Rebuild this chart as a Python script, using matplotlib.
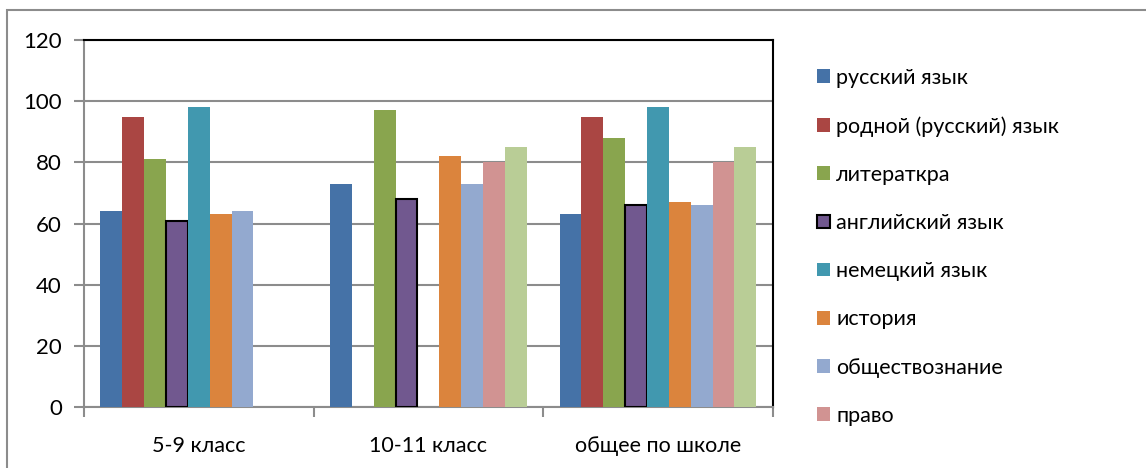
import matplotlib.pyplot as plt
import matplotlib.patches as mpatches
import numpy as np

plt.rcParams['font.family'] = ['Lato', 'DejaVu Sans']

categories = ['5-9 класс', '10-11 класс', 'общее по школе']
subjects = ['русский язык', 'родной (русский) язык', 'литераткра', 'английский язык',
            'немецкий язык', 'история', 'обществознание', 'право', '_nolegend_']
# nan = no bar for that class
values = [
    [64, 73, 63],
    [95, np.nan, 95],
    [81, 97, 88],
    [61, 68, 66],
    [98, np.nan, 98],
    [63, 82, 67],
    [64, 73, 66],
    [np.nan, 80, 80],
    [np.nan, 85, 85],
]
colors = ['#4572A7', '#AA4643', '#89A54E', '#71588F', '#4198AF',
          '#DB843D', '#93A9CF', '#D19392', '#B9CD96']

W, H = 1146, 468
fig = plt.figure(figsize=(W / 100, H / 100), dpi=100)

# outer chart frame (cut off on right and bottom)
fig.patches.append(mpatches.Rectangle((7 / W, -0.1), 1.2, 1 - 10 / H + 0.1,
                                      transform=fig.transFigure, fill=False,
                                      edgecolor='#8c8c8c', linewidth=1.5))

ax = fig.add_axes([84 / W, 1 - 407.3 / H, (772.7 - 84) / W, (407.3 - 40) / H])

n = len(subjects)
bw = 1 / (n + 1.5)
x = np.arange(len(categories))
for i, (name, vals, c) in enumerate(zip(subjects, values, colors)):
    edge = 'black' if i == 3 else 'none'
    ax.bar(x + (i - (n - 1) / 2) * bw, vals, bw, color=c, label=name,
           edgecolor=edge, linewidth=1.5 if i == 3 else 0, zorder=3)

ax.set_xlim(-0.5, len(categories) - 0.5)
ax.set_ylim(0, 120)
ax.set_yticks(range(0, 121, 20))
ax.set_xticks(x)
ax.set_xticklabels(categories)
ax.set_xticks(np.arange(-0.5, len(categories), 1), minor=True)
ax.tick_params(axis='x', which='major', length=0, pad=21, labelsize=15.5)
ax.tick_params(axis='x', which='minor', length=7, width=1.5, color='#8c8c8c')
ax.tick_params(axis='y', length=7, width=1.5, color='#8c8c8c', pad=9, labelsize=16)
ax.grid(axis='y', color='#8c8c8c', linewidth=1.5, zorder=0)
ax.set_axisbelow(True)
for s in ['left', 'bottom']:
    ax.spines[s].set_color('#8c8c8c')
    ax.spines[s].set_linewidth(1.5)
for s in ['top', 'right']:
    ax.spines[s].set_color('black')
    ax.spines[s].set_linewidth(1.5)

leg = ax.legend(loc='upper left', bbox_to_anchor=(806 / W, 1 - 57 / H),
                bbox_transform=fig.transFigure, frameon=False, fontsize=15.5,
                handlelength=0.6, handleheight=0.6, handletextpad=0.3,
                labelspacing=1.31, borderpad=0)

fig.savefig('out.png', dpi=100)
